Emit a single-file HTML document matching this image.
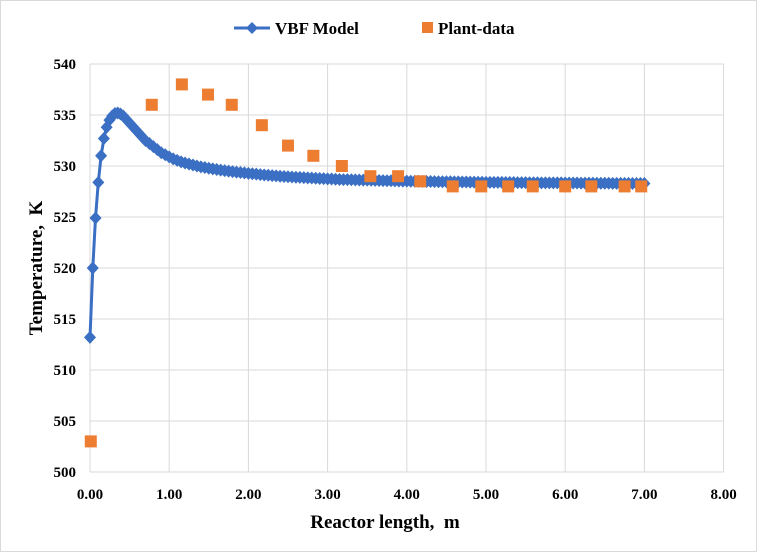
<!DOCTYPE html>
<html><head><meta charset="utf-8"><style>
body{margin:0;background:#fff}
svg{display:block;font-family:"Liberation Serif",serif;font-weight:bold}
</style></head><body>
<svg id="c" width="757" height="552">
<rect x="0.5" y="0.5" width="756" height="551" fill="#fff" stroke="#d9d9d9"/>
<g id="grid"></g>
<g id="axes"></g>
<g id="series"></g>
<g>
 <g>
  <line x1="234" y1="28" x2="270" y2="28" stroke="#3a6fc4" stroke-width="3"/>
  <path d="M252 22 L258 28 L252 34 L246 28 Z" fill="#3a6fc4"/>
  <text x="275" y="34" font-size="17">VBF Model</text>
 </g>
 <g>
  <rect x="422" y="22" width="11" height="11" fill="#ed7d31"/>
  <text x="438" y="34" font-size="17">Plant-data</text>
 </g>
</g>
<text x="385" y="528" font-size="19" text-anchor="middle">Reactor length,&#160; m</text>
<text transform="translate(42,268) rotate(-90)" font-size="19" text-anchor="middle">Temperature,&#160; K</text>
</svg>
<script>
const xTicks=[0,1,2,3,4,5,6,7,8];
const xTickLabels=["0.00","1.00","2.00","3.00","4.00","5.00","6.00","7.00","8.00"];
const yTicks=[500,505,510,515,520,525,530,535,540];
const plantX=[0.01,0.78,1.16,1.49,1.79,2.17,2.5,2.82,3.18,3.54,3.89,4.17,4.58,4.94,5.28,5.59,6.0,6.33,6.75,6.96];
const plantY=[503,536,538,537,536,534,532,531,530,529,529,528.5,528,528,528,528,528,528,528,528];
const modelXEarly=[0,0.035,0.07,0.105,0.14,0.175,0.21,0.245,0.28,0.315,0.35,0.385,0.42,0.455,0.49,0.525,0.56,0.595,0.63,0.665,0.7];
const modelYEarly=[513.2,520.0,524.9,528.4,531.0,532.7,533.8,534.5,534.9,535.15,535.2,535.1,534.9,534.6,534.3,534.0,533.7,533.4,533.1,532.8,532.5];
const modelLateStart=0.75, modelLateStep=0.05;
const modelYLate=[532.2,531.9,531.6,531.3,531.1,530.9,
530.7,530.55,530.4,530.3,530.2,530.1,530.0,529.92,529.85,529.78,
529.72,529.66,529.6,529.55,529.5,529.45,529.4,529.36,529.32,529.28,
529.24,529.2,529.16,529.12,529.09,529.06,529.03,529.0,528.97,528.94,
528.92,528.9,528.88,528.86,528.84,528.82,528.8,528.78,528.76,528.74,
528.72,528.7,528.68,528.67,528.66,528.65,528.64,528.63,528.62,528.61,
528.6,528.59,528.58,528.57,528.56,528.55,528.54,528.53,528.52,528.52,
528.51,528.5,528.5,528.49,528.48,528.48,528.47,528.46,528.46,528.45,
528.45,528.44,528.44,528.43,528.43,528.42,528.42,528.41,528.41,528.4,
528.4,528.4,528.39,528.39,528.38,528.38,528.38,528.37,528.37,528.37,
528.36,528.36,528.36,528.35,528.35,528.35,528.34,528.34,528.34,528.33,
528.33,528.33,528.33,528.32,528.32,528.32,528.32,528.31,528.31,528.31,
528.31,528.3,528.3,528.3,528.3,528.3,528.29,528.29,528.29,528.29];

const X0=90,X1=723.6,Y0=472,Y1=64;
const sx=v=>X0+(v-0)/(8-0)*(X1-X0);
const sy=v=>Y0-(v-500)/(540-500)*(Y0-Y1);
const NS="http://www.w3.org/2000/svg";
function mk(tag,attrs,parent){const e=document.createElementNS(NS,tag);for(const k in attrs)e.setAttribute(k,attrs[k]);parent.appendChild(e);return e;}
const grid=document.getElementById('grid'),axes=document.getElementById('axes'),series=document.getElementById('series');

xTicks.forEach((t,i)=>{
 const l=mk('line',{x1:sx(t),x2:sx(t),y1:Y1,y2:Y0,stroke:'#d9d9d9','stroke-width':1},grid);
 
 
 const tx=mk('text',{x:sx(t),y:Y0+27,'font-size':15,'text-anchor':'middle'},axes);
 tx.textContent=xTickLabels[i];
 
 
});
yTicks.forEach(t=>{
 const l=mk('line',{x1:X0,x2:X1,y1:sy(t),y2:sy(t),stroke:'#d9d9d9','stroke-width':1},grid);
 
 
 const tx=mk('text',{x:76,y:sy(t)+5,'font-size':15,'text-anchor':'end'},axes);
 tx.textContent=String(t);
 
 
});

const mX=modelXEarly.slice(), mY=modelYEarly.slice();
modelYLate.forEach((v,i)=>{mX.push(modelLateStart+i*modelLateStep);mY.push(v);});
const pts=mX.map((x,i)=>sx(x).toFixed(1)+','+sy(mY[i]).toFixed(1)).join(' ');
const pl=mk('polyline',{points:pts,fill:'none',stroke:'#3a6fc4','stroke-width':3},series);


mX.forEach((x,i)=>{
 const cx=sx(x),cy=sy(mY[i]);
 const d=mk('path',{d:`M${cx} ${cy-6.5} L${cx+6} ${cy} L${cx} ${cy+6.5} L${cx-6} ${cy} Z`,fill:'#3a6fc4'},series);
 
 
});
plantX.forEach((x,i)=>{
 const r=mk('rect',{x:sx(x)-6,y:sy(plantY[i])-6,width:12,height:12,fill:'#ed7d31'},series);
 
 
});
</script>
</body></html>
